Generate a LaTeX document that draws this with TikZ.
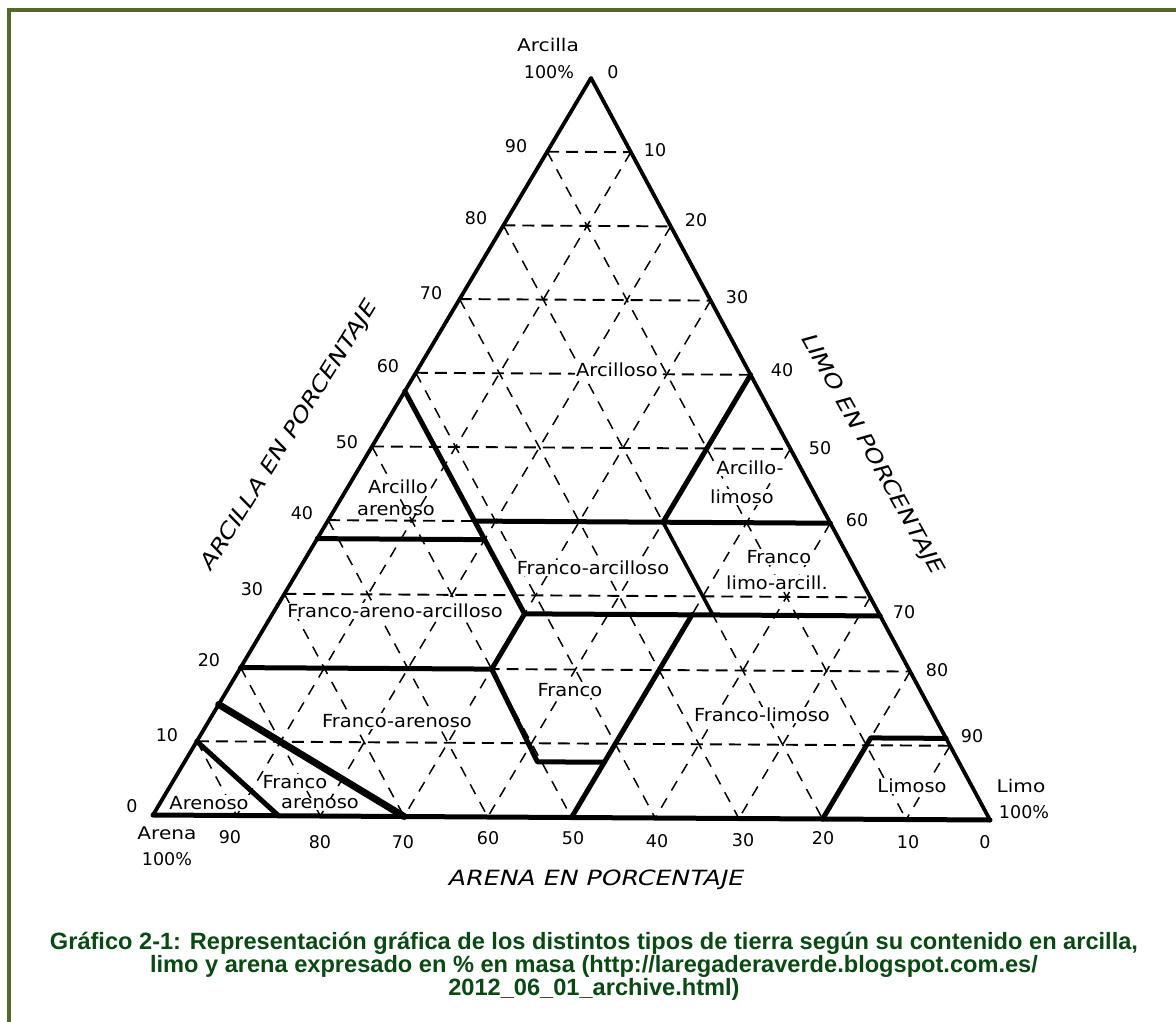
\documentclass[tikz,border=0pt]{standalone}
\usepackage{fontspec}
\setmainfont{DejaVu Sans}
\newfontfamily\oblfont{DejaVu Sans}[FakeSlant=0.2]
\newfontfamily\capfont{Liberation Sans}
\definecolor{framegreen}{RGB}{84,104,44}
\definecolor{capgreen}{RGB}{10,72,20}
\newcommand\wlab[1]{\scalebox{1.08}[1]{#1}}
\newcommand\wword[1]{\scalebox{1.15}[1]{#1}}
\newcommand\wtit[1]{\scalebox{1.2}[1]{#1}}
\begin{document}
\begin{tikzpicture}[x=1pt,y=-1pt,
  edgeline/.style={line width=3.8pt,line cap=round,line join=round},
  baseline/.style={line width=5pt,line cap=round},
  bnd/.style={line width=5pt,line cap=round,line join=round},
  bndthin/.style={line width=3.6pt,line cap=round},
  bndheavy/.style={line width=7pt,line cap=round},
  hgrid/.style={line width=1.9pt,dash pattern=on 12pt off 7pt},
  dgrid/.style={line width=1.5pt,dash pattern=on 11pt off 9pt},
  lab/.style={font=\fontsize{18}{20}\selectfont,fill=white,inner sep=1pt},
  num/.style={font=\fontsize{17.5}{18}\selectfont,inner sep=0pt},
  axt/.style={font=\fontsize{21}{24}\oblfont,inner sep=0pt},
]
\useasboundingbox (0,0) rectangle (1176,1022);
\fill[white] (0,0) rectangle (1176,1022);
% frame
\fill[framegreen] (7,8) rectangle (1176,12);
\fill[framegreen] (7,8) rectangle (11,1022);

% vertices
\coordinate (T) at (591,78);
\coordinate (L) at (153,815);
\coordinate (R) at (990,820);

% dashed grid
\foreach \i in {1,...,9}{
  \pgfmathtruncatemacro\j{10-\i}
  \draw[hgrid] (barycentric cs:T=\i,L=\j) -- (barycentric cs:T=\i,R=\j);
  \draw[dgrid] (barycentric cs:T=\j,R=\i) -- (barycentric cs:R=\i,L=\j);
  \draw[dgrid] (barycentric cs:T=\j,L=\i) -- (barycentric cs:L=\i,R=\j);
}

% region labels
\node[lab] (arcilloso) at (617,370) {\wlab{Arcilloso}};
\node[lab] (arcA) at (398,487) {\wlab{Arcillo}};
\node[lab,fill=none] (arcB) at (396,511) {\wlab{arenoso}};
\node[lab] (alA) at (750,468) {\wlab{Arcillo-}};
\node[lab] (alB) at (742,497) {\wlab{limoso}};
\node[lab] (fa) at (593,568) {\wlab{Franco-arcilloso}};
\node[lab] (flaA) at (779,557) {\wlab{Franco}};
\node[lab] (flaB) at (777,583) {\wlab{limo-arcill.}};
\node[lab] (faa) at (395,611) {\wlab{Franco-areno-arcilloso}};
\node[lab] (franco) at (570,690) {\wlab{Franco}};
\node[lab] (fl) at (762,715) {\wlab{Franco-limoso}};
\node[lab] (fare) at (397,721) {\wlab{Franco-arenoso}};
\node[lab] (aren) at (209,803) {\wlab{Arenoso}};
\node[lab] (faA) at (295,782) {\wlab{Franco}};
\node[lab] (faB) at (320,804) {\wlab{arenoso}};
\node[lab] (lim) at (912,786) {\wlab{Limoso}};

% boundary points (clay T, silt R, sand L), as fractions
\coordinate (P1) at (barycentric cs:T=.575,R=0,L=.425);
\coordinate (P2) at (barycentric cs:T=.40,R=.175,L=.425);
\coordinate (P3) at (barycentric cs:T=.375,R=.20,L=.425);
\coordinate (P4) at (barycentric cs:T=.275,R=.30,L=.425);
\coordinate (P5) at (barycentric cs:T=.20,R=.30,L=.50);
\coordinate (P6) at (barycentric cs:T=.075,R=.42,L=.505);
\coordinate (P7) at (barycentric cs:T=.075,R=.50,L=.425);
\coordinate (P8) at (barycentric cs:T=0,R=.50,L=.50);
\coordinate (P9) at (barycentric cs:T=.275,R=.50,L=.225);
\coordinate (P10) at (barycentric cs:T=.275,R=.725,L=0);
\coordinate (P11) at (barycentric cs:T=.40,R=.60,L=0);
\coordinate (P12) at (barycentric cs:T=.40,R=.40,L=.20);
\coordinate (P13) at (barycentric cs:T=.60,R=.40,L=0);
\coordinate (P14) at (barycentric cs:T=.275,R=.525,L=.20);
\coordinate (P15) at (barycentric cs:T=.375,R=0,L=.625);
\coordinate (P16) at (barycentric cs:T=.20,R=0,L=.80);
\coordinate (P17) at (barycentric cs:T=.15,R=0,L=.85);
\coordinate (P18) at (barycentric cs:T=0,R=.30,L=.70);
\coordinate (P19) at (barycentric cs:T=.10,R=0,L=.90);
\coordinate (P20) at (barycentric cs:T=0,R=.15,L=.85);
\coordinate (P21) at (barycentric cs:T=0,R=.80,L=.20);
\coordinate (P22) at (barycentric cs:T=.11,R=.80,L=.09);
\coordinate (P23) at (barycentric cs:T=.11,R=.89,L=0);

% triangle outline
\draw[edgeline] (L) -- (T) -- (R);
\draw[baseline] (L) -- (R);

% class boundaries
\draw[bnd] (P1) -- (P4);
\draw[bnd] (P15) -- (P3);
\draw[bnd] (P2) -- (P11);
\draw[bnd] (P13) -- (P12);
\draw[bndthin] (P12) -- (P14);
\draw[bnd] (P4) -- (P10);
\draw[bnd] (P16) -- (P5) -- (P4);
\draw[bnd] (P5) -- (P6) -- (P7);
\draw[bnd] (P8) -- (P9);
\draw[bndheavy] (P17) -- (P18);
\draw[bnd] (P19) -- (P20);
\draw[bnd] (P21) -- (P22) -- (P23);

% corner labels
\node[num] (arcT) at (548,45) {\wword{Arcilla}};
\node[num] (arcP) at (549,72) {100\%};
\node[num] (s0) at (613,72) {0};
\node[num] (arenT) at (167,833) {\wword{Arena}};
\node[num] (arenP) at (167,859) {100\%};
\node[num] (c0) at (132,806) {0};
\node[num] (limT) at (1021,786) {\wword{Limo}};
\node[num] (limP) at (1024,812) {100\%};

% clay ticks (left)
\node[num] (c10) at (167,735) {10};
\node[num] (c20) at (209,660) {20};
\node[num] (c30) at (252,589) {30};
\node[num] (c40) at (302,513) {40};
\node[num] (c50) at (347,442) {50};
\node[num] (c60) at (388,366) {60};
\node[num] (c70) at (431,293) {70};
\node[num] (c80) at (476,218) {80};
\node[num] (c90) at (516,146) {90};
% silt ticks (right)
\node[num] (s10) at (655,150) {10};
\node[num] (s20) at (696,220) {20};
\node[num] (s30) at (737,297) {30};
\node[num] (s40) at (782,370) {40};
\node[num] (s50) at (820,448) {50};
\node[num] (s60) at (857,520) {60};
\node[num] (s70) at (904,612) {70};
\node[num] (s80) at (937,670) {80};
\node[num] (s90) at (972,736) {90};
% sand ticks (bottom)
\node[num] (a90) at (230,837) {90};
\node[num] (a80) at (320,842) {80};
\node[num] (a70) at (403,842) {70};
\node[num] (a60) at (488,838) {60};
\node[num] (a50) at (573,838) {50};
\node[num] (a40) at (657,841) {40};
\node[num] (a30) at (743,840) {30};
\node[num] (a20) at (823,838) {20};
\node[num] (a10) at (908,842) {10};
\node[num] (a0) at (985,842) {0};

% axis titles
\node[axt] (tA) at (595,880) {\wtit{ARENA EN PORCENTAJE}};
\node[axt,rotate=58] (tC) at (289,437) {\wtit{ARCILLA EN PORCENTAJE}};
\node[axt,rotate=-61] (tS) at (871,453) {\wtit{LIMO EN PORCENTAJE}};

% caption
\node[font=\fontsize{23.6}{22}\capfont\bfseries,text=capgreen,align=center,inner sep=0pt] (cap) at (594,966)
 {Gráfico 2-1: Representación gráfica de los distintos tipos de tierra según su contenido en arcilla,\\
  limo y arena expresado en \% en masa (http://laregaderaverde.blogspot.com.es/\\
  2012\_06\_01\_archive.html)};
\end{tikzpicture}
\end{document}
